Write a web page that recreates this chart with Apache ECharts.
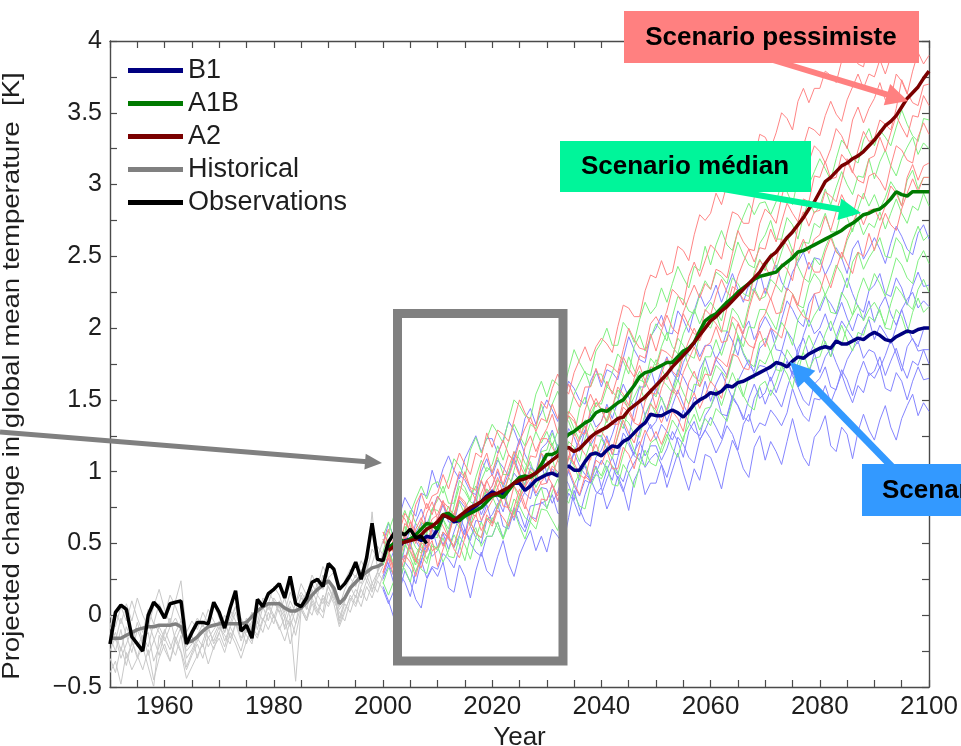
<!DOCTYPE html>
<html>
<head>
<meta charset="utf-8">
<script src="https://cdn.jsdelivr.net/npm/echarts@6.0.0/dist/echarts.min.js"></script>
<style>html,body{margin:0;padding:0;background:#fff;overflow:hidden;}#chart{width:961px;height:746px;}</style>
</head>
<body>
<div id="chart"></div>
<script>
// ---------------- DATA ----------------
const xTickLabels = [1960, 1980, 2000, 2020, 2040, 2060, 2080, 2100];
const yTickLabels = [-0.5, 0, 0.5, 1, 1.5, 2, 2.5, 3, 3.5, 4];
const legendNames = ['B1', 'A1B', 'A2', 'Historical', 'Observations'];

// Observations (K), 1950..2008
const obsStart = 1950;
const observations = [
  -0.20,0.02,0.07,0.04,-0.15,-0.20,-0.25,0.00,0.09,0.05,
  -0.02,0.08,0.09,0.10,-0.20,-0.12,-0.05,-0.05,-0.06,0.09,
  0.02,-0.09,0.05,0.17,-0.11,-0.07,-0.16,0.11,0.06,0.15,
  0.18,0.22,0.12,0.27,0.08,0.06,0.12,0.23,0.25,0.20,
  0.36,0.32,0.18,0.22,0.28,0.37,0.25,0.40,0.64,0.39,
  0.38,0.51,0.57,0.58,0.56,0.60,0.54,0.55,0.50
];

// Historical multi-model mean (K), 1950..2000
const histStart = 1950;
const historicalMean = [
  -0.16,-0.16,-0.16,-0.14,-0.12,-0.10,-0.09,-0.08,-0.08,-0.07,
  -0.07,-0.07,-0.06,-0.08,-0.19,-0.18,-0.15,-0.11,-0.08,-0.07,
  -0.06,-0.06,-0.06,-0.06,-0.06,-0.05,-0.01,0.03,0.06,0.08,
  0.08,0.08,0.05,0.03,0.03,0.05,0.09,0.14,0.18,0.21,
  0.24,0.19,0.08,0.12,0.19,0.23,0.27,0.30,0.33,0.34,
  0.36
];

// Scenario means (K), 2001..2100
const meanStart = 2001;
const b1Mean = [
  0.46,0.49,0.48,0.52,0.53,0.54,0.52,0.55,0.54,0.60,
  0.69,0.69,0.65,0.66,0.70,0.73,0.76,0.79,0.83,0.86,
  0.84,0.85,0.88,0.92,0.92,0.87,0.90,0.94,0.96,0.98,
  0.99,0.97,1.02,1.04,1.01,1.01,1.07,1.12,1.13,1.11,
  1.15,1.18,1.17,1.21,1.23,1.27,1.31,1.34,1.40,1.39,
  1.39,1.41,1.43,1.41,1.38,1.42,1.47,1.50,1.52,1.55,
  1.54,1.56,1.60,1.59,1.62,1.63,1.65,1.67,1.69,1.71,
  1.73,1.76,1.75,1.73,1.77,1.80,1.79,1.82,1.84,1.86,
  1.87,1.86,1.91,1.89,1.89,1.91,1.93,1.92,1.95,1.97,
  1.95,1.92,1.91,1.94,1.96,1.98,1.97,1.99,2.00,2.00
];
const a1bMean = [
  0.47,0.50,0.53,0.51,0.53,0.56,0.60,0.64,0.63,0.60,
  0.70,0.71,0.68,0.66,0.69,0.71,0.73,0.75,0.79,0.83,
  0.84,0.82,0.87,0.92,0.96,0.97,0.96,0.99,1.05,1.12,
  1.12,1.14,1.22,1.26,1.28,1.31,1.34,1.36,1.41,1.43,
  1.42,1.45,1.48,1.50,1.55,1.60,1.66,1.69,1.70,1.72,
  1.74,1.76,1.76,1.80,1.84,1.86,1.90,1.98,2.05,2.08,
  2.10,2.14,2.18,2.21,2.25,2.28,2.31,2.34,2.36,2.37,
  2.38,2.39,2.43,2.46,2.49,2.53,2.54,2.56,2.58,2.60,
  2.62,2.64,2.66,2.68,2.71,2.73,2.76,2.79,2.80,2.82,
  2.83,2.86,2.90,2.95,2.93,2.92,2.95,2.95,2.95,2.95
];
const a2Mean = [
  0.45,0.48,0.50,0.51,0.52,0.53,0.56,0.60,0.62,0.65,
  0.70,0.68,0.66,0.69,0.72,0.75,0.77,0.79,0.82,0.84,
  0.85,0.87,0.89,0.92,0.94,0.95,0.97,0.99,1.02,1.05,
  1.08,1.11,1.15,1.17,1.14,1.16,1.20,1.24,1.27,1.29,
  1.31,1.34,1.37,1.38,1.43,1.46,1.49,1.52,1.56,1.60,
  1.64,1.68,1.73,1.77,1.81,1.85,1.90,1.95,2.00,2.05,
  2.08,2.12,2.15,2.19,2.23,2.27,2.31,2.35,2.39,2.45,
  2.50,2.53,2.58,2.63,2.67,2.72,2.77,2.83,2.88,2.95,
  3.02,3.05,3.09,3.13,3.15,3.18,3.20,3.23,3.27,3.31,
  3.36,3.41,3.44,3.48,3.54,3.60,3.64,3.68,3.74,3.79
];

// Historical individual runs (hundredths of K), 1950..2000
const historicalRuns = [
  [-20,-12,-25,-8,-18,-30,-15,-22,-5,-12, -18,-8,-2,-10,-25,-20,-14,-6,-16,-10, -4,-12,-2,6,-8,-14,-20,0,8,4, 12,6,-2,10,2,8,16,12,22,18, 26,14,4,10,20,28,22,32,72,30, 38],
  [-30,-40,-22,-35,-18,-28,-38,-24,-45,-30, -20,-32,-15,-25,-38,-28,-20,-30,-15,-24, -12,-22,-8,-16,-25,-10,-18,-4,-12,2, -6,8,-10,-2,-14,4,-4,10,2,14, 8,18,-6,4,12,6,18,10,22,16, 28],
  [-10,2,-6,8,-4,12,0,-8,6,18, 4,-6,10,24,-12,-4,-10,2,-6,8, -2,-12,4,-4,-16,-8,2,-6,12,8, 20,14,2,16,8,22,14,28,20,34, 26,30,18,24,32,26,38,30,46,40, 52],
  [-40,-32,-48,-26,-38,-30,-22,-36,-50,-14, -24,-32,-18,-26,-44,-36,-28,-20,-34,-22, -16,-26,-12,-20,-30,-18,-8,-14,-2,-10, 0,-8,-18,-4,-46,4,-4,8,0,12, 6,16,-4,8,2,14,6,20,12,24, 18],
  [0,-8,6,-4,10,-2,-12,4,-6,8, 0,14,6,-4,-16,-10,-2,-8,4,-4, -10,0,-6,6,-2,-12,-4,10,4,16, 10,2,12,-2,8,16,10,22,14,28, 20,12,6,18,26,20,32,24,36,48, 42],
  [-25,-15,-30,-20,-10,-22,-14,-28,-18,-8, -16,-24,-12,-4,-30,-24,-16,-22,-10,-18, -8,-14,-20,-6,-12,-2,-10,-16,-4,6, -2,10,0,-8,4,12,6,0,14,8, 20,10,2,-4,10,18,12,24,16,30, 24],
  [-15,-25,-10,-30,-20,-5,-18,-12,-32,-22, -10,-20,-28,-14,-36,-26,-18,-10,-22,-14, -6,-18,-8,2,-10,-20,-6,4,-4,8, 0,-10,-2,-20,-6,6,-2,12,4,-2, 16,8,-8,2,14,8,20,28,18,26, 34],
  [-5,-18,-2,-14,-26,-10,-20,-4,-16,-28, -12,-2,-18,-8,-22,-14,-30,-18,-8,-20, -12,-4,-16,-6,-18,-8,2,-10,6,-4, 10,2,-8,6,-6,14,4,18,8,2, 24,16,-2,10,20,12,28,36,22,30, 44]
];

// Scenario individual runs (hundredths of K), 2000..2100
const runStart = 2000;
const b1Runs = [
  [50,64,55,69,82,75,69,85,83,101, 89,102,111,101,95,109,117,125,114,123, 123,113,122,135,129,119,137,144,133,141, 150,143,135,150,163,158,150,147,163,171, 159,171,169,164,179,194,185,178,176,194, 200,209,197,196,212,206,197,212,224,215, 220,230,218,228,238,227,218,230,225,239, 224,236,244,232,226,239,246,253,241,249, 248,237,245,256,249,238,255,261,248,255, 263,255,245,259,271,264,255,251,266,272, 262],
  [43,35,45,59,54,46,65,74,63,73, 83,77,69,85,98,94,86,84,100,109, 97,108,103,97,110,123,112,104,100,116, 120,129,116,115,130,124,114,129,140,131, 135,147,137,149,161,152,145,159,159,172, 159,171,180,169,163,176,184,191,180,188, 188,178,186,198,191,181,198,205,192,200, 208,201,192,206,219,213,205,201,217,224, 212,222,217,210,223,235,224,215,211,226, 230,238,224,222,235,228,216,229,239,229, 230],
  [27,39,36,32,47,61,52,45,44,61, 67,77,65,64,80,75,66,82,93,85, 90,100,89,99,110,99,91,103,99,113, 99,111,119,108,102,114,122,129,118,125, 125,116,126,138,133,124,143,151,139,148, 158,151,143,158,171,166,158,155,171,179, 167,178,173,167,180,193,182,174,170,186, 190,199,185,184,198,192,181,195,206,196, 200,210,198,208,218,207,198,210,206,219, 204,215,222,210,202,213,220,225,214,219, 215],
  [39,50,58,46,39,51,58,64,52,59, 58,49,58,71,65,56,74,82,70,79, 88,81,72,87,99,94,85,81,97,105, 92,102,98,90,101,113,104,98,95,110, 115,125,112,112,127,121,112,128,139,130, 135,146,135,146,157,147,139,152,148,163, 149,161,169,160,151,163,171,178,168,174, 173,163,172,184,178,168,186,193,181,189, 198,190,180,194,205,199,193,189,199,206, 192,202,196,189,201,213,201,192,187,199, 200],
  [25,35,22,22,37,32,22,38,49,41, 45,57,46,58,69,60,52,66,65,77, 64,76,84,74,66,78,86,93,83,89, 88,78,86,98,91,80,98,104,92,99, 108,102,94,110,123,119,111,108,125,133, 122,133,128,122,131,143,134,128,125,139, 145,154,140,139,153,146,136,151,161,151, 155,166,155,166,177,167,159,172,168,183, 169,180,186,176,167,178,185,191,179,185, 183,172,181,192,182,170,187,193,184,185, 185],
  [43,36,27,42,54,49,40,37,52,60, 47,58,53,47,56,73,62,54,50,66, 70,78,62,60,73,72,61,76,77,78, 80,91,79,90,100,90,83,94,92,104, 89,101,110,99,93,106,114,121,111,118, 118,108,116,128,121,110,128,135,122,129, 138,131,123,138,151,146,138,135,151,159, 147,157,152,145,158,170,159,150,146,161, 165,173,159,157,171,164,153,167,177,167, 170,180,167,177,186,174,165,177,174,185, 175],
  [18,8,17,29,23,13,31,38,26,34, 32,43,39,33,47,60,50,44,41,55, 55,65,54,64,75,64,58,69,67,79, 75,84,71,70,85,79,69,84,95,86, 84,95,104,95,86,99,106,113,103,109, 113,105,96,110,124,119,110,106,122,129, 123,113,121,132,126,115,133,140,127,134, 132,143,138,132,141,158,147,139,135,151, 150,160,148,158,168,157,148,160,155,169, 165,173,158,156,169,163,150,163,173,164, 165],
  [20,10,-2,16,31,23,11,5,25,33, 27,37,19,16,35,27,12,31,44,31, 27,41,52,36,27,42,51,59,45,55, 44,60,55,49,68,87,74,65,62,84, 89,74,83,97,88,73,94,102,84,92, 92,105,89,101,113,99,87,102,94,112, 110,100,88,107,122,114,102,96,117,125, 108,121,114,105,121,137,122,110,104,124, 129,139,118,114,131,126,109,128,140,129, 122,136,146,131,122,137,146,154,139,148, 142]
];
const a1bRuns = [
  [44,58,69,60,56,71,81,90,81,91, 93,85,95,109,104,96,115,124,113,123, 133,127,120,136,150,146,139,137,154,163, 152,164,161,156,171,185,176,169,167,184, 190,200,188,188,204,199,190,206,218,210, 215,228,218,231,243,235,228,243,240,257, 244,258,268,258,254,268,278,287,279,287, 288,279,288,301,295,286,304,312,300,309, 318,311,303,318,331,326,318,315,331,339, 327,338,333,327,340,352,342,334,330,346, 345],
  [37,50,47,43,58,73,64,58,56,74, 80,90,78,78,94,89,80,96,108,100, 105,118,108,121,133,125,118,133,130,147, 134,147,156,146,140,154,162,170,159,168, 168,159,169,182,177,168,187,195,184,193, 203,198,191,208,222,220,212,210,223,233, 227,239,236,231,246,260,251,244,242,259, 265,275,262,262,277,272,262,278,289,280, 285,297,286,298,309,300,293,306,305,318, 304,316,324,313,306,318,326,333,321,329, 325],
  [55,65,53,63,73,62,53,65,60,74, 73,67,60,76,90,86,79,77,94,103, 100,110,98,98,114,109,100,116,128,120, 128,118,128,140,135,125,144,152,140,148, 147,159,156,151,166,180,171,164,162,179, 174,187,197,187,182,196,205,213,203,212, 218,212,205,221,235,231,224,222,239,248, 240,252,241,253,264,254,247,260,259,273, 270,280,267,267,282,277,267,283,294,285, 293,283,291,302,296,285,303,310,297,305, 305],
  [35,45,33,33,49,44,35,51,63,55, 54,66,76,67,61,74,82,90,80,88, 82,94,91,86,101,115,106,100,97,114, 115,127,116,128,139,130,122,136,135,148, 143,134,144,157,152,143,162,170,159,168, 178,172,164,180,193,188,181,179,195,203, 200,210,198,198,214,209,200,216,228,220, 222,234,230,225,239,255,243,235,232,249, 244,256,265,254,248,261,269,276,265,273, 270,281,269,280,290,280,273,285,282,294, 285],
  [53,45,36,50,62,56,47,43,58,65, 55,67,56,68,79,70,62,76,75,88, 83,74,83,96,90,80,99,107,95,103, 110,120,107,106,121,117,107,123,134,126, 124,137,146,136,130,144,152,160,149,157, 152,164,160,155,169,185,173,166,163,180, 180,192,181,193,204,195,187,201,200,213, 213,206,199,215,228,224,216,214,230,238, 233,223,232,244,238,228,246,253,241,249, 255,263,250,249,263,258,246,261,271,261, 265],
  [23,14,24,37,32,23,42,50,39,48, 47,58,54,48,62,75,65,57,54,68, 64,76,86,76,70,84,92,100,89,97, 100,109,96,95,110,104,94,109,120,111, 123,116,109,125,138,134,126,124,140,148, 140,152,141,153,164,155,147,161,160,173, 162,174,170,165,179,195,183,176,173,190, 193,183,192,204,198,188,206,213,201,209, 215,224,211,210,225,219,209,224,235,226, 238,231,222,235,249,244,235,231,247,254, 245],
  [35,45,32,42,51,40,30,42,36,50, 45,54,41,40,55,49,39,54,65,56, 68,61,53,68,81,76,68,65,81,89, 74,86,95,84,78,91,99,106,95,103, 97,108,104,98,112,125,115,107,104,120, 123,113,123,136,130,121,140,147,135,144, 145,157,146,158,169,160,152,166,165,178, 175,184,171,170,185,179,169,184,195,186, 184,196,205,194,188,201,209,216,205,213, 218,211,202,217,229,224,217,213,227,234, 225],
  [22,33,29,23,37,50,40,32,29,45, 48,37,45,56,49,38,55,61,48,55, 55,65,53,63,73,62,53,65,60,74, 73,66,59,75,88,84,76,74,90,98, 95,104,91,90,105,99,89,104,115,106, 104,117,126,116,110,124,132,140,129,137, 132,144,140,135,149,165,153,146,143,160, 163,153,162,174,168,158,176,183,171,179, 180,191,180,191,202,192,184,197,195,208, 205,213,200,199,213,208,196,211,221,211, 215]
];
const a2Runs = [
  [58,49,59,72,67,58,77,85,74,83, 85,98,88,101,113,105,98,113,110,127, 117,129,126,121,136,150,141,134,132,149, 144,158,168,159,154,169,178,187,177,187, 193,189,183,201,216,214,208,208,226,237, 235,247,237,239,257,254,247,265,279,275, 280,294,286,300,314,307,302,318,317,335, 333,325,336,350,346,338,358,367,357,367, 367,379,376,371,386,400,391,384,382,399, 394,406,415,404,398,411,419,426,415,423, 420],
  [50,60,48,48,64,59,50,66,78,70, 83,77,70,86,100,96,89,87,104,113, 99,112,122,112,107,121,130,138,128,137, 135,147,137,149,161,152,145,159,159,172, 162,175,173,169,185,200,192,186,185,203, 208,201,212,227,223,216,236,246,236,247, 258,254,248,266,281,279,273,273,291,302, 300,312,301,303,322,317,310,327,340,338, 334,348,358,349,344,359,368,377,367,377, 375,387,377,389,401,392,385,399,399,412, 405],
  [58,51,43,58,71,66,58,55,71,79, 67,79,75,70,84,100,88,80,78,94, 98,89,99,112,107,98,117,125,114,123, 130,140,127,126,142,137,127,143,154,145, 150,163,154,167,180,172,166,181,179,196, 184,198,209,200,196,211,221,230,221,231, 227,241,239,235,252,268,260,255,254,273, 283,279,273,291,306,304,298,298,316,327, 323,315,325,339,334,325,345,354,343,353, 360,371,359,360,377,372,363,379,392,384, 390],
  [29,42,52,42,37,51,60,68,58,67, 70,80,67,66,82,77,67,83,94,85, 90,102,91,103,114,105,97,111,110,123, 123,117,110,126,139,135,128,126,143,151, 143,135,145,159,154,146,165,174,163,173, 172,185,183,179,195,210,202,196,195,213, 209,223,234,225,221,236,246,255,246,256, 255,269,260,274,287,280,274,290,288,306, 305,316,304,305,321,316,308,324,337,330, 332,345,342,338,353,373,364,357,355,369, 370],
  [37,48,44,38,52,65,55,47,44,60, 68,62,54,70,83,79,71,69,85,94, 85,96,85,96,107,97,89,102,98,113, 108,98,108,121,115,105,124,132,120,129, 135,145,133,133,149,144,135,151,163,155, 154,168,179,170,166,181,191,200,191,201, 208,203,197,214,229,226,220,219,237,247, 243,236,247,262,258,250,271,281,271,281, 282,295,292,288,303,318,309,303,301,318, 320,333,323,336,348,340,333,348,347,362, 355],
  [30,42,31,43,54,45,37,51,47,63, 58,48,57,69,63,53,71,78,66,73, 80,89,76,75,90,84,74,89,100,91, 92,104,100,95,109,128,118,112,108,125, 128,122,115,131,145,141,134,132,149,158, 144,158,168,159,154,169,178,187,177,187, 190,201,190,191,208,204,196,213,226,219, 228,220,231,245,241,233,253,262,252,262, 265,278,268,281,293,285,278,293,290,306, 308,303,296,313,327,324,317,315,333,343, 335],
  [30,40,27,27,42,37,27,42,54,45, 47,58,54,48,62,75,65,57,54,70, 64,76,85,74,68,81,89,96,85,93, 98,91,83,98,111,106,98,95,111,119, 110,122,112,124,136,127,120,134,133,147, 143,134,144,157,152,143,162,170,159,168, 167,180,177,173,188,203,194,188,186,204, 210,221,210,211,228,224,216,233,246,239, 239,253,263,253,249,263,273,282,272,282, 283,275,285,299,294,285,305,314,303,313, 315],
  [53,44,33,46,56,49,38,33,46,52, 34,46,56,46,40,54,62,70,59,67, 62,73,68,62,75,88,77,69,65,81, 80,91,80,91,102,92,84,97,93,108, 105,115,102,102,117,112,102,118,129,121, 128,119,129,142,137,128,147,155,144,153, 163,158,151,168,182,180,172,171,188,198, 187,200,197,193,208,223,214,208,206,224, 225,238,228,241,253,245,238,253,250,266, 254,269,280,272,268,283,294,304,295,305, 305]
];

// ---------------- CHART ----------------
const FONT = '"Liberation Sans", Arial, Helvetica, sans-serif';
const TEXT = '#1e1e1e';
const AXIS = '#4a4a4a';

function pairs(start, arr, scale) {
  return arr.map((v, i) => [start + i, v * scale]);
}
function thinSeries(runs, start, color, prefix) {
  return runs.map((r, k) => ({
    name: prefix + ' run ' + (k + 1), type: 'line', data: pairs(start, r, 0.01),
    showSymbol: false, silent: true, color: color,
    lineStyle: { width: 1, color: color }, emphasis: { disabled: true }, z: 2
  }));
}
function thick(name, start, arr, color, w, z) {
  return {
    name: name, type: 'line', data: pairs(start, arr, 1), showSymbol: false, silent: true,
    color: color, lineStyle: { width: w, color: color }, emphasis: { disabled: true }, z: z
  };
}

const series = [].concat(
  thinSeries(b1Runs, runStart, '#8585ff', 'B1'),
  thinSeries(a1bRuns, runStart, '#80f080', 'A1B'),
  thinSeries(a2Runs, runStart, '#ff8585', 'A2'),
  thinSeries(historicalRuns, histStart, '#c8c8c8', 'Historical'),
  [
    thick('Historical', histStart, historicalMean, '#808080', 3.5, 4),
    thick('B1', meanStart, b1Mean, '#000080', 3.5, 5),
    thick('A1B', meanStart, a1bMean, '#007a00', 3.5, 5),
    thick('A2', meanStart, a2Mean, '#7a0000', 3.5, 5),
    thick('Observations', obsStart, observations, '#000000', 3.5, 6)
  ]
);

function fmtY(v) {
  if (!yTickLabels.some(t => Math.abs(t - v) < 1e-6)) return '';
  return v < 0 ? '\u2212' + Math.abs(v) : String(v);
}
function fmtX(v) {
  return xTickLabels.indexOf(Math.round(v)) >= 0 ? String(Math.round(v)) : '';
}

function arrow(x1, y1, x2, y2, w, head, half, color) {
  const a = Math.atan2(y2 - y1, x2 - x1);
  const bx = x2 - head * Math.cos(a), by = y2 - head * Math.sin(a);
  const nx = -Math.sin(a), ny = Math.cos(a);
  return [
    { type: 'line', z: 50, silent: true, shape: { x1: x1, y1: y1, x2: bx + Math.cos(a) * 2, y2: by + Math.sin(a) * 2 },
      style: { stroke: color, lineWidth: w } },
    { type: 'polygon', z: 50, silent: true,
      shape: { points: [[x2, y2], [bx + nx * half, by + ny * half], [bx - nx * half, by - ny * half]] },
      style: { fill: color } }
  ];
}
function labelBox(x, y, w, h, fill, text, tx, ty, align) {
  return [
    { type: 'rect', z: 60, silent: true, shape: { x: x, y: y, width: w, height: h }, style: { fill: fill } },
    { type: 'text', z: 61, silent: true, x: tx, y: ty,
      style: { text: text, fontSize: 26, fontWeight: 'bold', fontFamily: FONT, fill: '#000',
               align: align, verticalAlign: 'middle' } }
  ];
}

const graphics = [].concat(
  [{ type: 'rect', z: 40, silent: true, shape: { x: 397.5, y: 313.5, width: 165.5, height: 347.5 },
     style: { fill: 'none', stroke: '#808080', lineWidth: 9 } }],
  arrow(0, 432, 382, 463, 5, 17, 8, '#808080'),
  arrow(740, 50, 908, 101, 6, 22, 11, '#ff8080'),
  arrow(700, 185, 861, 213, 6, 22, 11, '#00f59a'),
  arrow(900, 475, 790, 362, 7, 24, 12, '#3399ff'),
  labelBox(624, 11, 295, 52, '#ff8080', 'Scenario pessimiste', 771, 38, 'center'),
  labelBox(560, 141, 251, 51, '#00f59a', 'Scenario m\u00e9dian', 685, 167, 'center'),
  labelBox(862, 464, 120, 52, '#3399ff', 'Scenario optimiste', 882, 491, 'left'),
  [{ type: 'text', z: 30, silent: true, x: 12, y: 376, rotation: Math.PI / 2, scaleX: 1.15,
     style: { text: 'Projected change in global mean temperature  [K]', fontSize: 24, fontFamily: FONT,
              fill: TEXT, align: 'center', verticalAlign: 'middle' } }]
);

const axisCommon = {
  axisLine: { show: true, onZero: false, lineStyle: { color: AXIS, width: 1.4 } },
  axisTick: { show: true, inside: true, length: 7, lineStyle: { color: AXIS, width: 1.2 } },
  splitLine: { show: false }
};

const option = {
  animation: false,
  backgroundColor: '#ffffff',
  grid: { left: 110, right: 32, top: 41, bottom: 59, containLabel: false, outerBoundsMode: 'none' },
  xAxis: [
    Object.assign({
      type: 'value', position: 'bottom', min: 1950, max: 2100, interval: 5,
      name: 'Year', nameLocation: 'middle', nameGap: 35,
      nameTextStyle: { fontSize: 26, fontFamily: FONT, color: TEXT },
      axisLabel: { formatter: fmtX, fontSize: 26, fontFamily: FONT, color: TEXT, margin: 7, showMinLabel: true, showMaxLabel: true, hideOverlap: false }
    }, axisCommon),
    Object.assign({
      type: 'value', position: 'top', min: 1950, max: 2100, interval: 5,
      axisLabel: { show: false }
    }, axisCommon)
  ],
  yAxis: [
    Object.assign({
      type: 'value', position: 'left', min: -0.5, max: 4, interval: 0.25,
      axisLabel: { formatter: fmtY, fontSize: 25, fontFamily: FONT, color: TEXT, margin: 8, showMinLabel: true, showMaxLabel: true, hideOverlap: false }
    }, axisCommon),
    Object.assign({
      type: 'value', position: 'right', min: -0.5, max: 4, interval: 0.25,
      axisLabel: { show: false }
    }, axisCommon)
  ],
  legend: {
    data: legendNames, orient: 'vertical', left: 128, top: 54, padding: 0, itemGap: 0,
    itemWidth: 55, itemHeight: 5, icon: 'rect', selectedMode: false,
    textStyle: { fontSize: 27, fontFamily: FONT, color: TEXT, lineHeight: 33 }
  },
  graphic: graphics,
  series: series
};

const chart = echarts.init(document.getElementById('chart'), null, { renderer: 'canvas' });
chart.setOption(option);
</script>
</body>
</html>
